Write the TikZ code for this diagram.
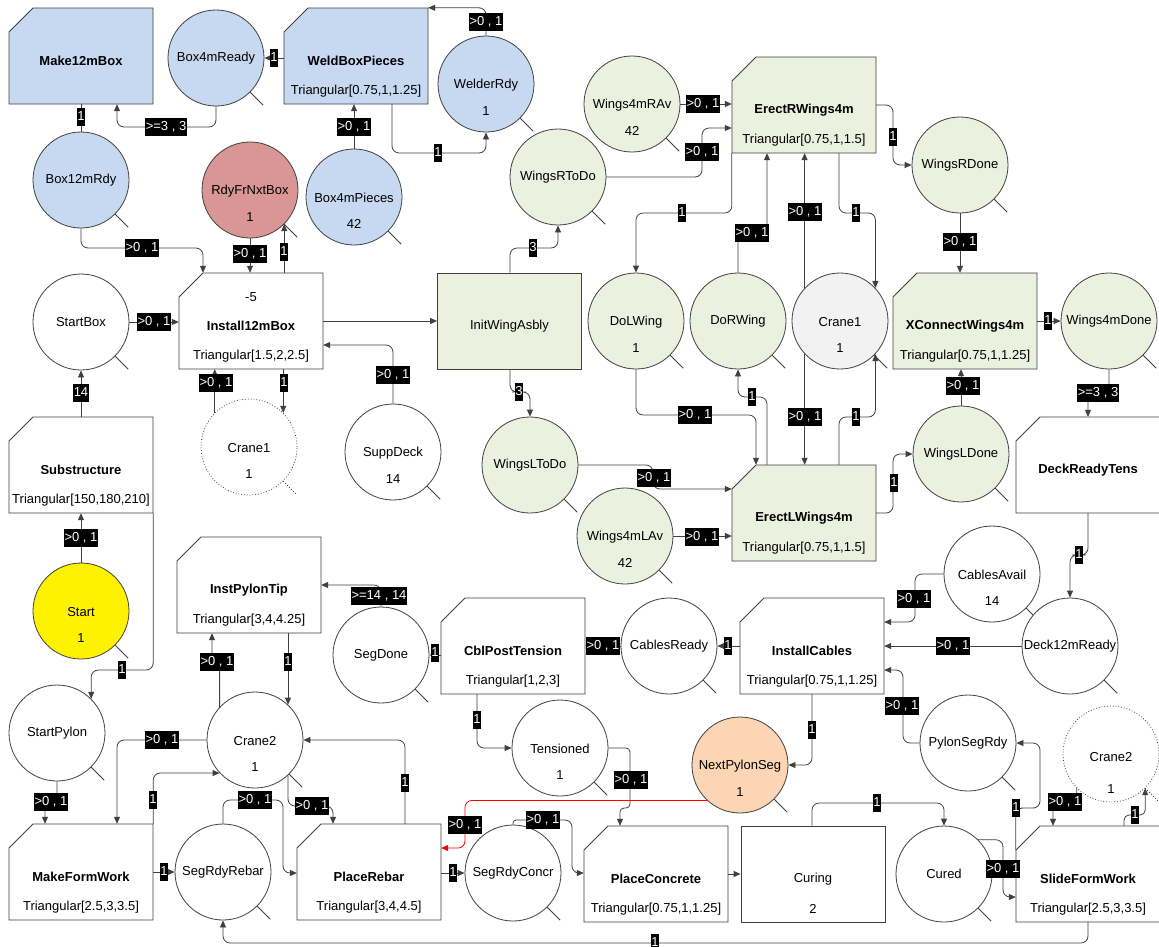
\documentclass[tikz,border=0pt]{standalone}
\usepackage{fontspec}
\setmainfont{Liberation Sans}
\usetikzlibrary{arrows.meta}
\definecolor{pblue}{HTML}{C6D9F1}
\definecolor{pgreen}{HTML}{EBF1DE}
\definecolor{pred}{HTML}{D99694}
\definecolor{porange}{HTML}{FCD5B5}
\definecolor{pgray}{HTML}{F2F2F2}
\definecolor{lc}{HTML}{404040}
\tikzset{
  place/.style={circle, draw=lc, line width=0.8pt, minimum size=96pt, inner sep=0pt},
  tnode/.style={rectangle, minimum width=144pt, minimum height=96pt, inner sep=0pt},
  boxst/.style={draw=lc, line width=0.8pt},
  txt/.style={inner sep=0pt, font=\fontsize{13}{15}\selectfont},
  btxt/.style={inner sep=0pt, font=\fontsize{13}{15}\selectfont\bfseries},
  tailst/.style={draw=lc, line width=0.8pt},
  con/.style={draw=lc, line width=0.8pt, rounded corners=7pt},
  ar/.style={con, -{Triangle[length=7pt,width=6pt]}},
  lab/.style={fill=black, text=white, inner xsep=0.8pt, inner ysep=1.5pt, font=\fontsize{13}{13}\selectfont, text height=11pt, text depth=3.5pt}
}
\newcommand\pla[5][]{%
  \node[place,fill=#4,#1] (#2) at (#3) {};
  \node[txt] (#2-t) at (#2.center) {#5};
  \draw[tailst,#1] (#2.-45) -- ++(13,13);}
\newcommand\plb[6][]{%
  \node[place,fill=#4,#1] (#2) at (#3) {};
  \node[txt] (#2-t) at ([yshift=-1pt]#2.center) {#5};
  \node[txt] (#2-v) at ([yshift=-27pt]#2.center) {#6};
  \draw[tailst,#1] (#2.-45) -- ++(13,13);}
\newcommand\trans[6]{%
  \filldraw[boxst,fill=#4] (#2-72,#3+48) -- (#2-72,#3-24) -- (#2-48,#3-48) -- (#2+72,#3-48) -- (#2+72,#3+48) -- cycle;
  \node[tnode] (#1) at (#2,#3) {};
  \node[btxt] (#1-t) at ([yshift=-5pt]#1.center) {#5};
  \if\relax\detokenize{#6}\relax\else\node[txt] (#1-s) at ([yshift=-35pt]#1.center) {#6};\fi}
\newcommand\rbox[6]{%
  \node[tnode,draw=lc,line width=0.8pt,fill=#4] (#1) at (#2,#3) {};
  \node[txt] (#1-t) at ([yshift=-5pt]#1.center) {#5};
  \if\relax\detokenize{#6}\relax\else\node[txt] (#1-s) at ([yshift=-35pt]#1.center) {#6};\fi}
\begin{document}
\begin{tikzpicture}[x=1pt,y=-1pt]
\clip (0,0) rectangle (1159,946);
\fill[white] (0,0) rectangle (1159,946);
% transitions
\trans{Make12mBox}{81}{56}{pblue}{Make12mBox}{}
\trans{WeldBoxPieces}{356}{56}{pblue}{WeldBoxPieces}{Triangular[0.75,1,1.25]}
\trans{ErectRWings4m}{804}{105}{pgreen}{ErectRWings4m}{Triangular[0.75,1,1.5]}
\trans{Install12mBox}{251}{321}{white}{Install12mBox}{Triangular[1.5,2,2.5]}
\node[txt] (Install12mBox-n) at ([yshift=24pt]Install12mBox.center) {-5};
\rbox{InitWingAsbly}{509.5}{321}{pgreen}{InitWingAsbly}{}
\trans{XConnectWings4m}{965}{321}{pgreen}{XConnectWings4m}{Triangular[0.75,1,1.25]}
\trans{Substructure}{81}{465}{white}{Substructure}{Triangular[150,180,210]}
\trans{DeckReadyTens}{1088}{465}{white}{DeckReadyTens}{}
\trans{ErectLWings4m}{804}{513}{pgreen}{ErectLWings4m}{Triangular[0.75,1,1.5]}
\trans{InstPylonTip}{249}{585}{white}{InstPylonTip}{Triangular[3,4,4.25]}
\trans{CblPostTension}{513}{646}{white}{CblPostTension}{Triangular[1,2,3]}
\trans{InstallCables}{812}{646}{white}{InstallCables}{Triangular[0.75,1,1.25]}
\trans{MakeFormWork}{81}{872}{white}{MakeFormWork}{Triangular[2.5,3,3.5]}
\trans{PlaceRebar}{369}{872}{white}{PlaceRebar}{Triangular[3,4,4.5]}
\trans{PlaceConcrete}{656}{874}{white}{PlaceConcrete}{Triangular[0.75,1,1.25]}
\rbox{Curing}{813}{874}{white}{Curing}{2}
\trans{SlideFormWork}{1088}{874}{white}{SlideFormWork}{Triangular[2.5,3,3.5]}
% places
\pla{Box4mReady}{216,58}{pblue}{Box4mReady}
\plb{WelderRdy}{486,84}{pblue}{WelderRdy}{1}
\pla{Box12mRdy}{81,180}{pblue}{Box12mRdy}
\plb{RdyFrNxtBox}{250,190}{pred}{RdyFrNxtBox}{1}
\plb{Box4mPieces}{354,197}{pblue}{Box4mPieces}{42}
\pla{WingsRToDo}{558,177}{pgreen}{WingsRToDo}
\plb{Wings4mRAv}{632,104}{pgreen}{Wings4mRAv}{42}
\pla{WingsRDone}{960,165}{pgreen}{WingsRDone}
\pla{StartBox}{81,322}{white}{StartBox}
\plb{DoLWing}{636,321}{pgreen}{DoLWing}{1}
\pla{DoRWing}{738,321}{pgreen}{DoRWing}
\plb{Crane1}{840,321}{pgray}{Crane1}{1}
\pla{Wings4mDone}{1109,321}{pgreen}{Wings4mDone}
\plb[dotted]{Crane1b}{249,447}{white}{Crane1}{1}
\plb{SuppDeck}{393,452}{white}{SuppDeck}{14}
\pla{WingsLToDo}{530,465}{pgreen}{WingsLToDo}
\pla{WingsLDone}{961,454}{pgreen}{WingsLDone}
\plb{Wings4mLAv}{625,536}{pgreen}{Wings4mLAv}{42}
\plb{Start}{81,611}{yellow}{Start}{1}
\plb{CablesAvail}{992,574}{white}{CablesAvail}{14}
\pla{SegDone}{381,655}{white}{SegDone}
\pla{CablesReady}{669,646}{white}{CablesReady}
\pla{Deck12mReady}{1070,646}{white}{Deck12mReady}
\pla{StartPylon}{57,733}{white}{StartPylon}
\plb{Crane2}{255,740}{white}{Crane2}{1}
\plb{Tensioned}{560,748}{white}{Tensioned}{1}
\plb{NextPylonSeg}{740,765}{porange}{NextPylonSeg}{1}
\pla{PylonSegRdy}{968,743}{white}{PylonSegRdy}
\node[place,fill=white,dotted] (Crane2b) at (1111,754) {};
\node[txt] (Crane2b-t) at ([yshift=-3pt]Crane2b.center) {Crane2};
\node[txt] (Crane2b-v) at ([yshift=-35pt]Crane2b.center) {1};
\draw[tailst,dotted] (Crane2b.-45) -- ++(13,13);
\pla{SegRdyRebar}{223,872}{white}{SegRdyRebar}
\pla{SegRdyConcr}{513,873}{white}{SegRdyConcr}
\pla{Cured}{944,874}{white}{Cured}
% connectors
\draw[con] (Make12mBox.south) -- (Box12mRdy.north);
\draw[ar] (Box4mReady.south) |- (166,127) -| (117,0 |- Make12mBox.south);
\draw[ar] (Box4mReady.east -| WeldBoxPieces.west) -- (Box4mReady.east);
\draw[ar] (Box4mPieces.north) -- (Box4mPieces.north |- WeldBoxPieces.south);
\draw[ar] (392,0 |- WeldBoxPieces.south) |- (438,153) -| (WelderRdy.south);
\draw[ar] (WelderRdy.north) |- (WeldBoxPieces.north east);
\draw[ar] (Box12mRdy.south) |- (142,248) -| (203,0 |- Install12mBox.north);
\draw[ar] (RdyFrNxtBox.south) -- (RdyFrNxtBox.south |- Install12mBox.north);
\draw[ar] (RdyFrNxtBox.-45 |- Install12mBox.north) -- (RdyFrNxtBox.-45);
\draw[ar] (StartBox.east) -- (StartBox.east -| Install12mBox.west);
\draw[ar] (Substructure.north) -- (StartBox.south);
\draw[ar] (Crane1b.135) -- (Crane1b.135 |- Install12mBox.south);
\draw[ar] (Crane1b.45 |- Install12mBox.south) -- (Crane1b.45);
\draw[ar] (SuppDeck.north) |- (Install12mBox.east |- 0,345);
\draw[ar] (Install12mBox.east) -- (InitWingAsbly.west);
\draw[ar] (510,0 |- InitWingAsbly.north) |- (533,248) -| (WingsRToDo.south);
\draw[ar] (510,0 |- InitWingAsbly.south) |- (519,392) -| (WingsLToDo.north);
\draw[ar] (WingsRToDo.east) -| (702,150) |- (ErectRWings4m.west |- 0,128);
\draw[ar] (Wings4mRAv.east) -- (Wings4mRAv.east -| ErectRWings4m.west);
\draw[ar] (ErectRWings4m.east) -| (893,140) |- (WingsRDone.west);
\draw[ar] (ErectRWings4m.south west) |- (682,213) -| (DoLWing.north);
\draw[ar] (DoRWing.north) |- (752,233) -| (767,0 |- ErectRWings4m.south);
\draw[ar] (Crane1.137) -- (Crane1.137 |- ErectRWings4m.south);
\draw[ar] (Crane1.223) -- (Crane1.223 |- ErectLWings4m.north);
\draw[ar] (839,0 |- ErectRWings4m.south) |- (856,213) -| (Crane1.43);
\draw[ar] (839,0 |- ErectLWings4m.north) |- (856,417) -| (Crane1.-43);
\draw[ar] (767,0 |- ErectLWings4m.north) |- (752,397) -| (DoRWing.south);
\draw[ar] (DoLWing.south) |- (695,415) -| (756,0 |- ErectLWings4m.north);
\draw[ar] (WingsLToDo.east) -| (653,478) |- (ErectLWings4m.west |- 0,489);
\draw[ar] (Wings4mLAv.east) -- (Wings4mLAv.east -| ErectLWings4m.west);
\draw[ar] (ErectLWings4m.east) -| (893,483) |- (WingsLDone.west);
\draw[ar] (WingsRDone.south) -- (WingsRDone.south |- XConnectWings4m.north);
\draw[ar] (WingsLDone.north) -- (WingsLDone.north |- XConnectWings4m.south);
\draw[ar] (XConnectWings4m.east) -- (Wings4mDone.west);
\draw[ar] (Wings4mDone.south) |- (1098,393) -| (1088,0 |- DeckReadyTens.north);
\draw[ar] (DeckReadyTens.south) |- (1079,555) -| (Deck12mReady.north);
\draw[ar] (CablesAvail.west) -| (915,600) |- (InstallCables.east |- 0,622);
\draw[ar] (Deck12mReady.west) -- (Deck12mReady.west -| InstallCables.east);
\draw[ar] (PylonSegRdy.west) -| (903,706) |- (InstallCables.east |- 0,670);
\draw[ar] (InstallCables.west) -- (CablesReady.east);
\draw[ar] (CablesReady.west) -- (CablesReady.west -| CblPostTension.east);
\draw[ar] (SegDone.east -| CblPostTension.west) -- (SegDone.east);
\draw[ar] (SegDone.north) |- (InstPylonTip.east);
\draw[ar] (477,0 |- CblPostTension.south) |- (Tensioned.west);
\draw[ar,rounded corners=4pt] (Tensioned.east) -| (630,808) -| (620,0 |- PlaceConcrete.north);
\draw[ar] (812,0 |- InstallCables.south) |- (NextPylonSeg.east);
\draw[ar,draw=red] (NextPylonSeg.227) -| (465,825) |- (PlaceRebar.east |- 0,848);
\draw[ar] (405,0 |- PlaceRebar.north) |- (Crane2.east);
\draw[ar] (Crane2.west) -| (117,0 |- MakeFormWork.north);
\draw[ar,rounded corners=4pt] (StartPylon.south) |- (51,802) -| (45,0 |- MakeFormWork.north);
\draw[ar] (Start.north) -- (Substructure.south);
\draw[ar] (Substructure.south east) |- (122,670) -| (StartPylon.45);
\draw[ar,rounded corners=4pt] (Crane2.137) |- (216,662) -| (212,0 |- InstPylonTip.south);
\draw[ar] (Crane2.47 |- InstPylonTip.south) -- (Crane2.47);
\draw[ar] (Crane2.-47) |- (312,806) -| (333,0 |- PlaceRebar.north);
\draw[ar] (MakeFormWork.north east) |- (Crane2.-137);
\draw[ar] (MakeFormWork.east) -- (SegRdyRebar.west);
\draw[ar] (SegRdyRebar.north) |- (255,800) -| (283,850) |- (PlaceRebar.west |- 0,873);
\draw[ar] (PlaceRebar.east |- SegRdyConcr.west) -- (SegRdyConcr.west);
\draw[ar] (SegRdyConcr.north) [rounded corners=3pt] |- (543,820) [rounded corners=7pt] -| (572,850) |- (PlaceConcrete.west |- SegRdyConcr.west);
\draw[ar] (PlaceConcrete.east) -- (Curing.west);
\draw[ar] (812,0 |- Curing.north) |- (877,803) -| (Cured.north);
\draw[ar] (Cured.45) -| (1003,869) |- (SlideFormWork.west |- 0,897);
\draw[ar] (SlideFormWork.west |- 0,850) |- (1028,808) -| (1040,775) |- (PylonSegRdy.east);
\draw[ar,rounded corners=4pt] (Crane2b.225) |- (1065,802) -| (1053,0 |- SlideFormWork.north);
\draw[ar,rounded corners=5pt] (1124,0 |- SlideFormWork.north) |- (1135,815) -| (Crane2b.-45);
\draw[ar] (SlideFormWork.south) |- (655,943) -| (SegRdyRebar.south);
% labels
\node[lab] (l1) at (81,117) {1};
\node[lab] (l2) at (166,127) {>=3 , 3};
\node[lab] (l3) at (274,58) {1};
\node[lab] (l4) at (354,127) {>0 , 1};
\node[lab] (l5) at (438,153) {1};
\node[lab] (l6) at (486,22) {>0 , 1};
\node[lab] (l7) at (142,248) {>0 , 1};
\node[lab] (l8) at (250,254) {>0 , 1};
\node[lab] (l9) at (284,252) {1};
\node[lab] (l10) at (154,322) {>0 , 1};
\node[lab] (l11) at (81,393) {14};
\node[lab] (l12) at (216,383) {>0 , 1};
\node[lab] (l13) at (284,383) {1};
\node[lab] (l14) at (393,375) {>0 , 1};
\node[lab] (l15) at (533,248) {3};
\node[lab] (l16) at (519,392) {3};
\node[lab] (l17) at (702,152) {>0 , 1};
\node[lab] (l18) at (703,104) {>0 , 1};
\node[lab] (l19) at (893,137) {1};
\node[lab] (l20) at (682,213) {1};
\node[lab] (l21) at (752,233) {>0 , 1};
\node[lab] (l22) at (805,212) {>0 , 1};
\node[lab] (l23) at (805,417) {>0 , 1};
\node[lab] (l24) at (856,213) {1};
\node[lab] (l25) at (856,417) {1};
\node[lab] (l26) at (752,397) {1};
\node[lab] (l27) at (695,415) {>0 , 1};
\node[lab] (l28) at (654,478) {>0 , 1};
\node[lab] (l29) at (702,537) {>0 , 1};
\node[lab] (l30) at (894,483) {1};
\node[lab] (l31) at (960,242) {>0 , 1};
\node[lab] (l32) at (963,386) {>0 , 1};
\node[lab] (l33) at (1048,321) {1};
\node[lab] (l34) at (1098,393) {>=3 , 3};
\node[lab] (l35) at (1079,555) {1};
\node[lab] (l36) at (914,599) {>0 , 1};
\node[lab] (l37) at (953,646) {>0 , 1};
\node[lab] (l38) at (902,706) {>0 , 1};
\node[lab] (l39) at (728,646) {1};
\node[lab] (l40) at (603,646) {>0 , 1};
\node[lab] (l41) at (435,653) {1};
\node[lab] (l42) at (379,596) {>=14 , 14};
\node[lab] (l43) at (477,720) {1};
\node[lab] (l44) at (631,780) {>0 , 1};
\node[lab] (l45) at (812,730) {1};
\node[lab] (l46) at (465,825) {>0 , 1};
\node[lab] (l47) at (405,783) {1};
\node[lab] (l48) at (162,740) {>0 , 1};
\node[lab] (l49) at (51,802) {>0 , 1};
\node[lab] (l50) at (81,538) {>0 , 1};
\node[lab] (l51) at (122,670) {1};
\node[lab] (l52) at (217,662) {>0 , 1};
\node[lab] (l53) at (288,662) {1};
\node[lab] (l54) at (312,806) {>0 , 1};
\node[lab] (l55) at (153,800) {1};
\node[lab] (l56) at (164,872) {1};
\node[lab] (l57) at (255,800) {>0 , 1};
\node[lab] (l58) at (453,873) {1};
\node[lab] (l59) at (543,820) {>0 , 1};
\node[lab] (l60) at (877,803) {1};
\node[lab] (l61) at (1003,869) {>0 , 1};
\node[lab] (l62) at (1016,808) {1};
\node[lab] (l63) at (1065,802) {>0 , 1};
\node[lab] (l64) at (1135,815) {1};
\node[lab] (l65) at (655,943) {1};
\end{tikzpicture}
\end{document}
